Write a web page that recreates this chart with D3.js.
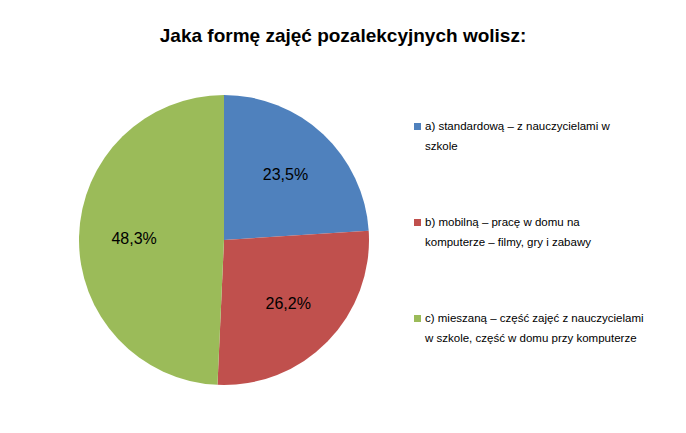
<!DOCTYPE html>
<html><head><meta charset="utf-8">
<script src="https://cdn.jsdelivr.net/npm/d3@7"></script>
<style>body{margin:0;background:#fff}</style>
</head><body><svg id="chart" width="686" height="433"></svg>
<script>
// chart data
var categories = ["a) standardową – z nauczycielami w szkole",
                  "b) mobilną – pracę w domu na komputerze – filmy, gry i zabawy",
                  "c) mieszaną – część zajęć z nauczycielami w szkole, część w domu przy komputerze"];
var legendLines = [["a) standardową – z nauczycielami w", "szkole"],
                   ["b) mobilną – pracę w domu na", "komputerze – filmy, gry i zabawy"],
                   ["c) mieszaną – część zajęć z nauczycielami", "w szkole, część w domu przy komputerze"]];
var values = [23.5, 26.2, 48.3];
var labels = ["23,5%", "26,2%", "48,3%"];
var colors = ["#4f81bd", "#c0504d", "#9bbb59"];

var svg = d3.select("#chart");
var font = "'Liberation Sans', Arial, sans-serif";

svg.append("text").attr("x", 343).attr("y", 42).attr("text-anchor", "middle")
  .attr("font-family", font).attr("font-weight", "bold").attr("font-size", 19)
  .text("Jaka formę zajęć pozalekcyjnych wolisz:");

var cx = 224, cy = 240, r = 145;
var pie = d3.pie().sort(null)(values);
var arc = d3.arc().innerRadius(0).outerRadius(r);
var g = svg.append("g").attr("transform", "translate(" + cx + "," + cy + ")");
g.selectAll("path").data(pie).join("path")
  .attr("d", arc).attr("fill", (d, i) => colors[i]);

var labelArc = d3.arc().innerRadius(r * 0.62).outerRadius(r * 0.62);
g.selectAll("text").data(pie).join("text")
  .attr("transform", d => "translate(" + labelArc.centroid(d) + ")")
  .attr("text-anchor", "middle").attr("dy", "0.35em")
  .attr("font-family", font).attr("font-size", 16)
  .text((d, i) => labels[i]);

var lg = svg.append("g");
legendLines.forEach(function (lines, i) {
  var y = 130 + i * 96;
  lg.append("rect").attr("x", 414).attr("y", y - 7).attr("width", 7).attr("height", 7)
    .attr("fill", colors[i]);
  lines.forEach(function (t, j) {
    lg.append("text").attr("x", 425).attr("y", y + j * 20)
      .attr("font-family", font).attr("font-size", 11.5).attr("fill", "#000").text(t);
  });
});
</script></body></html>
